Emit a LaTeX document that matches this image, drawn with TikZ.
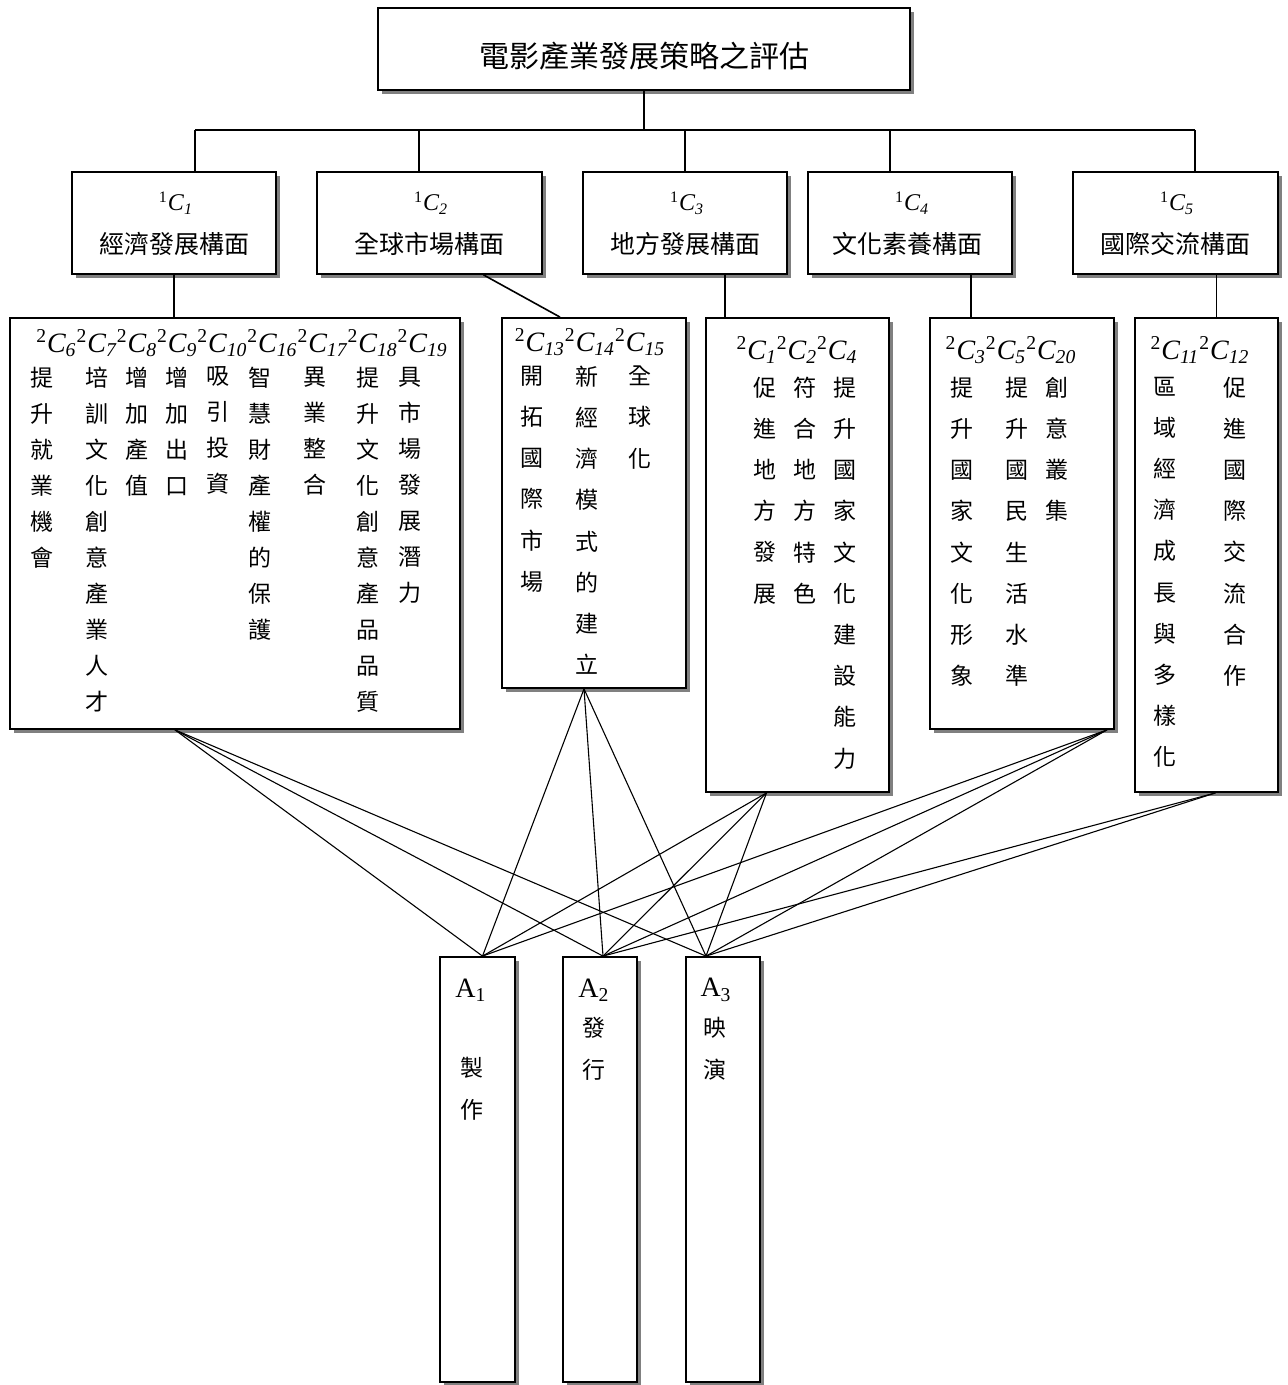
\documentclass[tikz,border=0pt]{standalone}
\usepackage{fontspec}
\setmainfont{Liberation Serif}
\newfontfamily\cjk{Noto Sans CJK TC}
\usetikzlibrary{calc}
\usetikzlibrary{shadows}
\newcommand{\crit}[2]{\textsuperscript{#1}\textit{C\textsubscript{#2}}}
\tikzset{box/.style = {draw, line width = 0.9pt, fill = white, inner sep = 0,
    drop shadow = {shadow xshift = 2.2pt, shadow yshift = -2.2pt, fill = black!50, opacity = 1}}}
\tikzset{tree/.style = {line width = 0.8pt}}
\tikzset{link/.style = {line width = 0.55pt}}
\tikzset{head/.style = {inner sep = 0, font = \fontsize{14}{16}\selectfont}}
\tikzset{col/.style = {anchor = north, inner sep = 0, align = center,
    font = \cjk\fontsize{11.5}{#1}\selectfont}, col/.default = 20.6}

\begin{document}
\begin{tikzpicture}[x = 0.5pt, y = -0.5pt]
  \useasboundingbox (0, 0) rectangle (1287, 1385);

  % goal
  \node [box, minimum width = 266pt, minimum height = 41pt] (top) at (644, 49) {};
  \node [inner sep = 0, font = \cjk\fontsize{15}{18}\selectfont] (title) at (644, 56) {電影產業發展策略之評估};

  % first level criteria
  \node [box, minimum width = 102pt, minimum height = 51pt] (c1) at (174, 223) {};
  \node [box, minimum width = 112.5pt, minimum height = 51pt] (c2) at (429.5, 223) {};
  \node [box, minimum width = 102pt, minimum height = 51pt] (c3) at (685, 223) {};
  \node [box, minimum width = 102pt, minimum height = 51pt] (c4) at (910, 223) {};
  \node [box, minimum width = 102.5pt, minimum height = 51pt] (c5) at (1175.5, 223) {};

  \node [head, font = \fontsize{12}{14}\selectfont] (c1h) at (176, 203) {\crit{1}{1}};
  \node [head, font = \fontsize{12}{14}\selectfont] (c2h) at (431, 203) {\crit{1}{2}};
  \node [head, font = \fontsize{12}{14}\selectfont] (c3h) at (687, 203) {\crit{1}{3}};
  \node [head, font = \fontsize{12}{14}\selectfont] (c4h) at (912, 203) {\crit{1}{4}};
  \node [head, font = \fontsize{12}{14}\selectfont] (c5h) at (1177, 203) {\crit{1}{5}};

  \node [inner sep = 0, font = \cjk\fontsize{12.5}{14}\selectfont] (c1t) at (174, 244) {經濟發展構面};
  \node [inner sep = 0, font = \cjk\fontsize{12.5}{14}\selectfont] (c2t) at (429, 244) {全球市場構面};
  \node [inner sep = 0, font = \cjk\fontsize{12.5}{14}\selectfont] (c3t) at (685, 244) {地方發展構面};
  \node [inner sep = 0, font = \cjk\fontsize{12.5}{14}\selectfont] (c4t) at (907, 244) {文化素養構面};
  \node [inner sep = 0, font = \cjk\fontsize{12.5}{14}\selectfont] (c5t) at (1175, 244) {國際交流構面};

  % second level criteria
  \node [box, minimum width = 225pt, minimum height = 205.5pt] (b1) at (235, 523.5) {};
  \node [box, minimum width = 92pt, minimum height = 185pt] (b2) at (594, 503) {};
  \node [box, minimum width = 91.5pt, minimum height = 237pt] (b3) at (797.5, 555) {};
  \node [box, minimum width = 92pt, minimum height = 205.5pt] (b4) at (1022, 523.5) {};
  \node [box, minimum width = 71.5pt, minimum height = 237pt] (b5) at (1206.5, 555) {};

  \node [head] (b1h) at (242, 343) {\crit{2}{6}\crit{2}{7}\crit{2}{8}\crit{2}{9}\crit{2}{10}\crit{2}{16}\crit{2}{17}\crit{2}{18}\crit{2}{19}};
  \node [head] (b2h) at (590, 342) {\crit{2}{13}\crit{2}{14}\crit{2}{15}};
  \node [head] (b3h) at (797, 350) {\crit{2}{1}\crit{2}{2}\crit{2}{4}};
  \node [head] (b4h) at (1011, 350) {\crit{2}{3}\crit{2}{5}\crit{2}{20}};
  \node [head] (b5h) at (1200, 350) {\crit{2}{11}\crit{2}{12}};

  \node [col = 18] (b1c1) at (42, 366.5) {提\\升\\就\\業\\機\\會};
  \node [col = 18] (b1c2) at (97, 366.5) {培\\訓\\文\\化\\創\\意\\產\\業\\人\\才};
  \node [col = 18] (b1c3) at (137, 366.5) {增\\加\\產\\值};
  \node [col = 18] (b1c4) at (177, 366.5) {增\\加\\出\\口};
  \node [col = 18] (b1c5) at (218, 366.5) {吸\\引\\投\\資};
  \node [col = 18] (b1c6) at (260, 366.5) {智\\慧\\財\\產\\權\\的\\保\\護};
  \node [col = 18] (b1c7) at (315, 366.5) {異\\業\\整\\合};
  \node [col = 18] (b1c8) at (368, 366.5) {提\\升\\文\\化\\創\\意\\產\\品\\品\\質};
  \node [col = 18] (b1c9) at (410, 366.5) {具\\市\\場\\發\\展\\潛\\力};

  \node [col] (b2c1) at (532, 365.5) {開\\拓\\國\\際\\市\\場};
  \node [col] (b2c2) at (587, 365.5) {新\\經\\濟\\模\\式\\的\\建\\立};
  \node [col] (b2c3) at (640, 365.5) {全\\球\\化};

  \node [col] (b3c1) at (765, 376.5) {促\\進\\地\\方\\發\\展};
  \node [col] (b3c2) at (805, 376.5) {符\\合\\地\\方\\特\\色};
  \node [col] (b3c3) at (845, 376.5) {提\\升\\國\\家\\文\\化\\建\\設\\能\\力};

  \node [col] (b4c1) at (962, 376.5) {提\\升\\國\\家\\文\\化\\形\\象};
  \node [col] (b4c2) at (1017, 376.5) {提\\升\\國\\民\\生\\活\\水\\準};
  \node [col] (b4c3) at (1057, 376.5) {創\\意\\叢\\集};

  \node [col] (b5c1) at (1165, 376.5) {區\\域\\經\\濟\\成\\長\\與\\多\\樣\\化};
  \node [col] (b5c2) at (1235, 376.5) {促\\進\\國\\際\\交\\流\\合\\作};

  % alternatives
  \node [box, minimum width = 37.5pt, minimum height = 212.5pt] (a1) at (477.5, 1169.5) {};
  \node [box, minimum width = 37pt, minimum height = 212.5pt] (a2) at (600, 1169.5) {};
  \node [box, minimum width = 37pt, minimum height = 212.5pt] (a3) at (723, 1169.5) {};

  \node [head] (a1h) at (471, 990) {A\textsubscript{1}};
  \node [head] (a2h) at (594, 990) {A\textsubscript{2}};
  \node [head] (a3h) at (716, 990) {A\textsubscript{3}};

  \node [col = 21] (a1t) at (472, 1056.5) {製\\作};
  \node [col = 21] (a2t) at (594, 1016.5) {發\\行};
  \node [col = 21] (a3t) at (715, 1016.5) {映\\演};

  % hierarchy lines
  \coordinate (bar) at ($(top.south) + (0, 40)$);
  \draw [tree] (top.south) -- (bar);
  \foreach \n/\x in {1/195, 2/419, 3/685, 4/890, 5/1195} {
    \coordinate (t\n) at (\x, 130);
    \draw [tree] (t\n) -- (t\n |- c\n.north);
  }
  \draw [tree] (t1) -- (t5);

  \draw [tree] (c1.south) -- (c1.south |- b1.north);
  \draw [tree] ($(c2.south) + (54, 0)$) -- ($(b2.north) + (-34, 0)$);
  \foreach \n/\dx in {3/40, 4/61, 5/41} {
    \coordinate (c\n o) at ($(c\n.south) + (\dx, 0)$);
    \draw [tree] (c\n o) -- (c\n o |- b\n.north);
  }

  % links to the alternatives
  \coordinate (b1o) at ($(b1.south) + (-60, 0)$);
  \coordinate (b2o) at ($(b2.south) + (-10, 0)$);
  \coordinate (b3o) at ($(b3.south) + (-31, 0)$);
  \coordinate (b4o) at ($(b4.south) + (85, 0)$);
  \coordinate (b5o) at ($(b5.south) + (9, 0)$);
  \coordinate (a1i) at ($(a1.north) + (5, 0)$);
  \coordinate (a2i) at ($(a2.north) + (3, 0)$);
  \coordinate (a3i) at ($(a3.north) + (-17, 0)$);

  \foreach \s in {b1o, b2o, b3o, b4o}
    \foreach \t in {a1i, a2i, a3i}
      \draw [link] (\s) -- (\t);
  \foreach \t in {a2i, a3i}
    \draw [link] (b5o) -- (\t);
\end{tikzpicture}
\end{document}
